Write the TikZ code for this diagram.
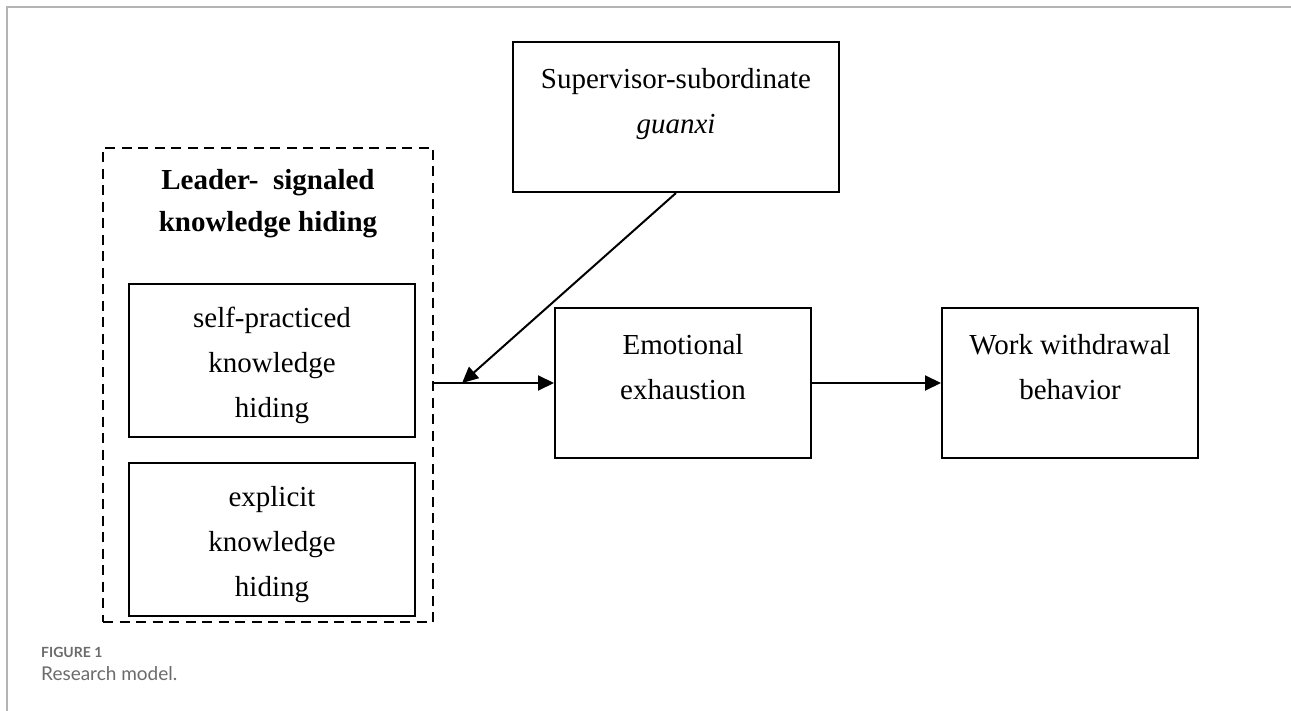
\documentclass[tikz,border=0pt]{standalone}
\usepackage{fontspec}
\setmainfont{Liberation Serif}
\newfontfamily\captionfont{Lato}
\usetikzlibrary{arrows.meta, calc, positioning}

\definecolor{frameGray}{HTML}{B4B4B4}
\definecolor{captionGray}{HTML}{6B6B6B}

\begin{document}
\begin{tikzpicture}
	[
		x=1pt, y=-1pt,
		node distance=24pt,
		box/.style={
				rectangle,
				draw=black,
				line width=2pt,
				align=center,
				inner sep=0pt,
				font=\fontsize{29}{45}\selectfont,
			},
		threeLines/.style={
				text height=120pt,
			},
		twoLines/.style={
				text height=65pt,
				text depth=32pt,
			},
		groupBox/.style={
				rectangle,
				draw=black,
				line width=2.2pt,
				dash pattern=on 10pt off 6.5pt,
			},
		groupTitle/.style={
				align=center,
				inner sep=0pt,
				font=\bfseries\fontsize{29}{42}\selectfont,
			},
		link/.style={
				-{Triangle[length=16pt,width=15pt]},
				line width=2pt,
			},
	]
	\useasboundingbox (0,0) rectangle (1291,711);
	\draw [frameGray, line width=2pt] (7,711) -- (7,7) -- (1291,7);

	% leader-signaled knowledge hiding
	\node [groupBox, minimum width=330pt, minimum height=474pt] (leaderBox) at (268,385) {};
	\node [groupTitle, anchor=north] (leaderTitle) at (268,169) {Leader-~ signaled\\knowledge hiding};
	\node [box, threeLines, minimum width=286pt, minimum height=153pt] (selfHiding) at (272,360.5) {self-practiced\\knowledge\\hiding};
	\node [box, threeLines, minimum width=286pt, minimum height=153pt, below=of selfHiding] (explicitHiding) {explicit\\knowledge\\hiding};

	% moderator, mediator, outcome
	\node [box, twoLines, minimum width=326pt, minimum height=150pt] (guanxi) at (676,117) {Supervisor-subordinate\\\textit{guanxi}};
	\node [box, twoLines, minimum width=256pt, minimum height=150pt] (exhaustion) at (683,383) {Emotional\\exhaustion};
	\node [box, twoLines, minimum width=256pt, minimum height=150pt, right=129pt of exhaustion] (withdrawal) {Work withdrawal\\behavior};

	\coordinate (joint) at ($(leaderBox.east |- exhaustion.west) + (28,0)$);
	\draw [link] (leaderBox.east |- exhaustion.west) -- (exhaustion.west);
	\draw [link] (guanxi.south) -- (joint);
	\draw [link] (exhaustion) -- (withdrawal);

	% caption
	\begin{scope}[captionGray, inner sep=0pt]
		\node [anchor=base west, font=\captionfont\bfseries\fontsize{14}{16}\selectfont] (figLabel) at (41,657) {FIGURE 1};
		\node [anchor=base west, font=\captionfont\fontsize{19}{22}\selectfont] (figCaption) at (41,680) {Research model.};
	\end{scope}
\end{tikzpicture}
\end{document}
